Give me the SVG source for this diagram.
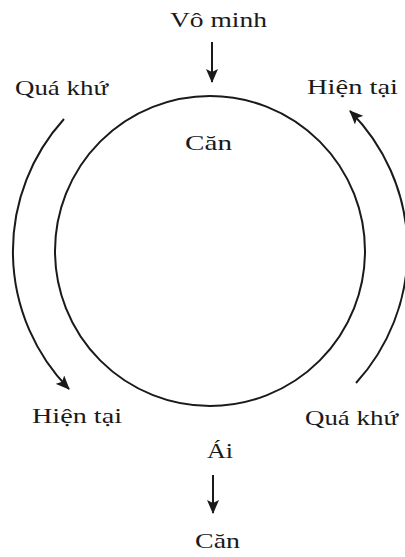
<svg xmlns="http://www.w3.org/2000/svg" width="405" height="557" viewBox="0 0 405 557">
<style>
.t{font-family:"Liberation Serif","Times New Roman",serif;font-size:22px;fill:#1a1a1a}
.l{fill:none;stroke:#1a1a1a;stroke-width:2}
</style>
<defs>
<marker id="ah" markerUnits="userSpaceOnUse" markerWidth="14" markerHeight="12" viewBox="0 0 14 12" refX="13" refY="6" orient="auto">
<path d="M0,0 L14,6 L0,12 L3,6 Z" fill="#1a1a1a"/>
</marker>
</defs>
<rect width="405" height="557" fill="#fff"/>
<g id="cycle">
<circle class="l" cx="210" cy="251" r="155"/>
<text class="t" x="185" y="150" textLength="47" lengthAdjust="spacingAndGlyphs">Căn</text>
</g>
<g id="vo-minh"><text class="t" x="170" y="27" textLength="97" lengthAdjust="spacingAndGlyphs">Vô minh</text></g>
<g id="qua-khu-left"><text class="t" x="15" y="95" textLength="93" lengthAdjust="spacingAndGlyphs">Quá khứ</text></g>
<g id="hien-tai-right"><text class="t" x="307" y="94" textLength="91" lengthAdjust="spacingAndGlyphs">Hiện tại</text></g>
<g id="hien-tai-left"><text class="t" x="32" y="423" textLength="90" lengthAdjust="spacingAndGlyphs">Hiện tại</text></g>
<g id="qua-khu-right"><text class="t" x="305" y="425" textLength="93" lengthAdjust="spacingAndGlyphs">Quá khứ</text></g>
<g id="ai"><text class="t" x="207" y="458" textLength="26" lengthAdjust="spacingAndGlyphs">Ái</text></g>
<g id="can-bottom"><text class="t" x="195" y="548" textLength="45" lengthAdjust="spacingAndGlyphs">Căn</text></g>
<g id="connectors">
<path class="l" d="M64,119 A197,197 0 0 0 69,389" marker-end="url(#ah)"/>
<path class="l" d="M356,383 A197,197 0 0 0 350,111" marker-end="url(#ah)"/>
<path class="l" d="M212,42 L212,82" marker-end="url(#ah)"/>
<path class="l" d="M213,475 L213,513" marker-end="url(#ah)"/>
</g>
</svg>
